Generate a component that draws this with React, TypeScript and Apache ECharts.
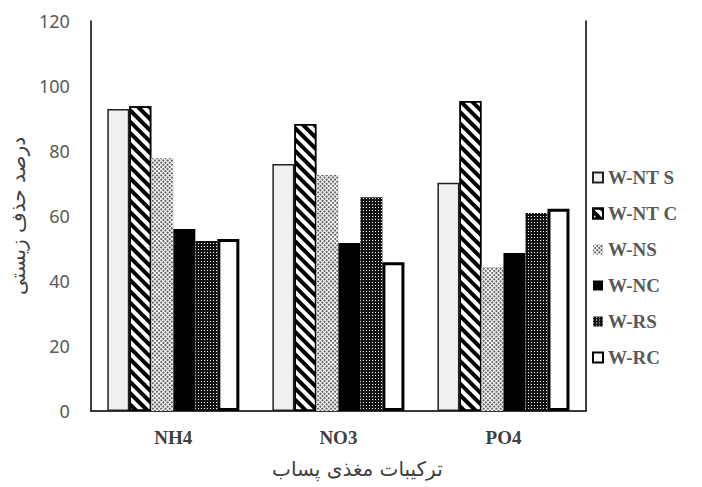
import React, { useEffect, useRef } from "react";
import * as echarts from "echarts";

const categories = ["NH4", "NO3", "PO4"];
const seriesNames = ["W-NT S", "W-NT C", "W-NS", "W-NC", "W-RS", "W-RC"];
const wNTS = [92.9, 76.0, 70.2];
const wNTC = [93.8, 88.3, 95.4];
const wNS = [77.8, 72.6, 44.3];
const wNC = [56.0, 51.7, 48.6];
const wRS = [52.3, 65.8, 60.9];
const wRC = [52.9, 45.8, 62.2];
const yTicks = [0, 20, 40, 60, 80, 100, 120];
const yTitle = "درصد حذف زیستی";
const xTitle = "ترکیبات مغذی پساب";

export default function App() {
  const ref = useRef<HTMLDivElement>(null);
  useEffect(() => {
    if (!ref.current) return;
    const chart = echarts.init(ref.current, undefined, { renderer: "svg" });
    const values = [wNTS, wNTC, wNS, wNC, wRS, wRC];
    const styles: any[] = [
      { color: "#f0f0f0", borderColor: "#222", borderWidth: 1.5 },
      {
        color: "#ffffff",
        borderColor: "#000",
        borderWidth: 1.5,
        decal: {
          symbol: "rect",
          symbolSize: 1,
          dashArrayX: [1, 0],
          dashArrayY: [4, 4],
          rotation: Math.PI / 4,
          color: "#000",
        },
      },
      {
        color: "#ffffff",
        decal: {
          symbol: "rect",
          symbolSize: 1,
          dashArrayX: [2, 1],
          dashArrayY: [2, 1],
          rotation: Math.PI / 4,
          color: "#666666",
        },
      },
      { color: "#000000" },
      {
        color: "#111111",
        decal: {
          symbol: "rect",
          symbolSize: 1,
          dashArrayX: [1, 2],
          dashArrayY: [1, 2],
          rotation: 0,
          color: "#ffffff",
        },
      },
      { color: "#ffffff", borderColor: "#000", borderWidth: 3 },
    ];
    const series = seriesNames.map((name, i) => ({
      name,
      type: "bar",
      data: values[i],
      barGap: "0%",
      barCategoryGap: "20%",
      itemStyle: styles[i],
      xAxisIndex: 0,
      yAxisIndex: 0,
    }));
    chart.setOption({
      animation: false,
      backgroundColor: "#ffffff",
      grid: { left: 87, right: 116, top: 21, bottom: 76 },
      legend: {
        orient: "vertical",
        left: 587,
        top: 163,
        icon: "rect",
        itemWidth: 10,
        itemHeight: 10,
        itemGap: 17,
        data: seriesNames,
        textStyle: {
          fontFamily: "Liberation Serif",
          fontWeight: "bold",
          fontSize: 19,
          color: "#595959",
        },
      },
      xAxis: [
        {
          type: "category",
          data: categories,
          axisLine: { lineStyle: { color: "#d9d9d9", width: 1 } },
          axisTick: { show: false },
          axisLabel: {
            fontFamily: "Liberation Serif",
            fontWeight: "bold",
            fontSize: 19,
            color: "#404040",
            margin: 17,
          },
          name: xTitle,
          nameLocation: "middle",
          nameGap: 48,
          nameTextStyle: {
            fontFamily: "DejaVu Sans",
            fontSize: 20,
            color: "#404040",
            padding: [0, 0, 0, 38],
          },
        },
        {
          type: "category",
          data: categories,
          position: "top",
          axisLine: { show: true, lineStyle: { color: "#000", width: 1.5 } },
          axisTick: { show: false },
          axisLabel: { show: false },
        },
      ],
      yAxis: [
        {
          type: "value",
          min: 0,
          max: 120,
          interval: 20,
          splitLine: { show: false },
          axisLine: { show: true, lineStyle: { color: "#000", width: 1.5 } },
          axisTick: { show: false },
          axisLabel: {
            fontFamily: "Noto Sans",
            fontSize: 18,
            color: "#595959",
            margin: 21,
            customValues: yTicks,
          },
          name: yTitle,
          nameLocation: "middle",
          nameRotate: 90,
          nameGap: 44,
          nameTextStyle: {
            fontFamily: "DejaVu Sans",
            fontSize: 20,
            color: "#404040",
          },
        },
        {
          type: "value",
          min: 0,
          max: 120,
          interval: 20,
          position: "right",
          splitLine: { show: false },
          axisLine: { show: true, lineStyle: { color: "#000", width: 1.5 } },
          axisTick: { show: false },
          axisLabel: { show: false },
        },
      ],
      series,
    });
    return () => chart.dispose();
  }, []);
  return (
    <div
      ref={ref}
      style={{ position: "fixed", left: 0, top: 0, width: 702, height: 487 }}
    />
  );
}
